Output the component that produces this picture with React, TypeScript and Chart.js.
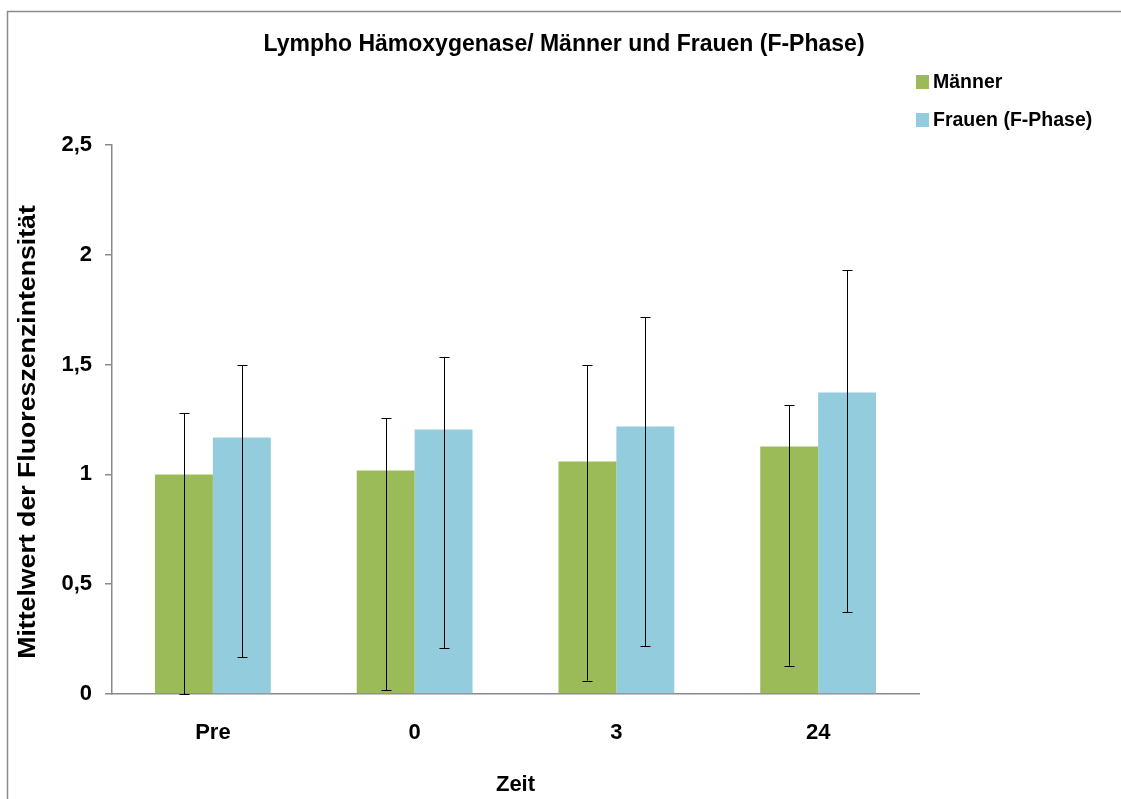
import React, { useEffect, useRef } from "react";
import { Chart, registerables } from "chart.js";

Chart.register(...registerables);

const chartTitle = "Lympho Hämoxygenase/ Männer und Frauen (F-Phase)";
const categories = ["Pre", "0", "3", "24"];
const seriesNames = ["Männer", "Frauen (F-Phase)"];
const seriesColors = ["#9BBB59", "#93CDDD"];
const maennerValues = [1.0, 1.018, 1.059, 1.127];
const frauenValues = [1.168, 1.205, 1.218, 1.373];
const maennerErrLow = [0.0, 0.017, 0.061, 0.129];
const maennerErrHigh = [1.279, 1.255, 1.497, 1.314];
const frauenErrLow = [0.167, 0.208, 0.217, 0.374];
const frauenErrHigh = [1.497, 1.535, 1.715, 1.93];
const yTickValues = [0, 0.5, 1, 1.5, 2, 2.5];
const yTickLabels = ["0", "0,5", "1", "1,5", "2", "2,5"];
const yAxisTitle = "Mittelwert der Fluoreszenzintensität";
const xAxisTitle = "Zeit";

const FONT = "'Liberation Sans', Arial, sans-serif";

const errLows = [maennerErrLow, frauenErrLow];
const errHighs = [maennerErrHigh, frauenErrHigh];

const decorPlugin = {
  id: "decor",
  beforeDraw(chart: any) {
    const ctx = chart.ctx;
    ctx.save();
    ctx.fillStyle = "#ffffff";
    ctx.fillRect(0, 0, chart.width, chart.height);
    ctx.strokeStyle = "#8a8a8a";
    ctx.lineWidth = 1.5;
    ctx.strokeRect(7.5, 11.5, chart.width + 20, chart.height + 20);
    ctx.restore();
  },
  afterDatasetsDraw(chart: any) {
    const ctx = chart.ctx;
    const yScale = chart.scales.y;
    ctx.save();
    ctx.strokeStyle = "#000000";
    ctx.lineWidth = 1;
    chart.data.datasets.forEach((ds: any, di: number) => {
      const meta = chart.getDatasetMeta(di);
      meta.data.forEach((bar: any, i: number) => {
        const x = Math.round(bar.x) + 0.5;
        const yl = yScale.getPixelForValue(errLows[di][i]);
        const yh = yScale.getPixelForValue(errHighs[di][i]);
        ctx.beginPath();
        ctx.moveTo(x, yl);
        ctx.lineTo(x, yh);
        ctx.moveTo(x - 5, Math.round(yl) + 0.5);
        ctx.lineTo(x + 5, Math.round(yl) + 0.5);
        ctx.moveTo(x - 5, Math.round(yh) + 0.5);
        ctx.lineTo(x + 5, Math.round(yh) + 0.5);
        ctx.stroke();
      });
    });
    ctx.restore();
  },
  afterDraw(chart: any) {
    const ctx = chart.ctx;
    const area = chart.chartArea;
    ctx.save();
    ctx.fillStyle = "#000000";
    // title
    ctx.font = `bold 23px ${FONT}`;
    ctx.textAlign = "center";
    ctx.textBaseline = "middle";
    ctx.fillText(chartTitle, 564, 45);
    // legend
    ctx.font = `bold 19.5px ${FONT}`;
    ctx.textAlign = "left";
    const legendY = [82, 120];
    seriesNames.forEach((name, i) => {
      ctx.fillStyle = seriesColors[i];
      ctx.fillRect(916, legendY[i] - 7, 13, 14);
      ctx.fillStyle = "#000000";
      ctx.fillText(name, 933, legendY[i] + 1);
    });
    // y axis title
    ctx.font = `bold 23px ${FONT}`;
    ctx.save();
    ctx.translate(29, 432);
    ctx.rotate(-Math.PI / 2);
    ctx.scale(1.16, 1);
    ctx.textAlign = "center";
    ctx.textBaseline = "middle";
    ctx.fillText(yAxisTitle, 0, 0);
    ctx.restore();
    // x axis title
    ctx.font = `bold 22px ${FONT}`;
    ctx.textAlign = "center";
    ctx.textBaseline = "middle";
    ctx.fillText(xAxisTitle, (area.left + area.right) / 2, 785);
    ctx.restore();
  },
};

export default function App() {
  const canvasRef = useRef<HTMLCanvasElement | null>(null);

  useEffect(() => {
    document.body.style.margin = "0";
    document.body.style.overflow = "hidden";
    const canvas = canvasRef.current;
    if (!canvas) return;
    const chart = new Chart(canvas, {
      type: "bar",
      data: {
        labels: categories,
        datasets: [
          {
            label: seriesNames[0],
            data: maennerValues,
            backgroundColor: seriesColors[0],
            borderWidth: 0,
            categoryPercentage: 0.574,
            barPercentage: 1.0,
          },
          {
            label: seriesNames[1],
            data: frauenValues,
            backgroundColor: seriesColors[1],
            borderWidth: 0,
            categoryPercentage: 0.574,
            barPercentage: 1.0,
          },
        ],
      },
      options: {
        responsive: false,
        animation: false,
        devicePixelRatio: 1,
        layout: { padding: { top: 145, right: 202, left: 0, bottom: 0 } },
        plugins: {
          legend: { display: false },
          title: { display: false },
          tooltip: { enabled: false },
        },
        scales: {
          x: {
            afterFit: (s: any) => {
              s.height = 105;
            },
            grid: { display: false, drawTicks: false },
            border: { display: true, color: "#8a8a8a", width: 1.5 },
            ticks: {
              color: "#000000",
              padding: 26,
              font: { family: FONT, size: 22, weight: "bold" },
            },
          },
          y: {
            min: 0,
            max: 2.5,
            afterFit: (s: any) => {
              s.width = 112;
            },
            afterBuildTicks: (s: any) => {
              s.ticks = yTickValues.map((v) => ({ value: v }));
            },
            grid: {
              drawOnChartArea: false,
              drawTicks: true,
              tickLength: 7,
              color: "#8a8a8a",
              lineWidth: 1.5,
            },
            border: { display: true, color: "#8a8a8a", width: 1.5 },
            ticks: {
              color: "#000000",
              padding: 13,
              font: { family: FONT, size: 22, weight: "bold" },
              callback: (_v: any, i: number) => yTickLabels[i],
            },
          },
        },
      },
      plugins: [decorPlugin],
    });
    return () => chart.destroy();
  }, []);

  return (
    <canvas
      ref={canvasRef}
      width={1121}
      height={799}
      style={{ display: "block", width: "1121px", height: "799px" }}
    />
  );
}
